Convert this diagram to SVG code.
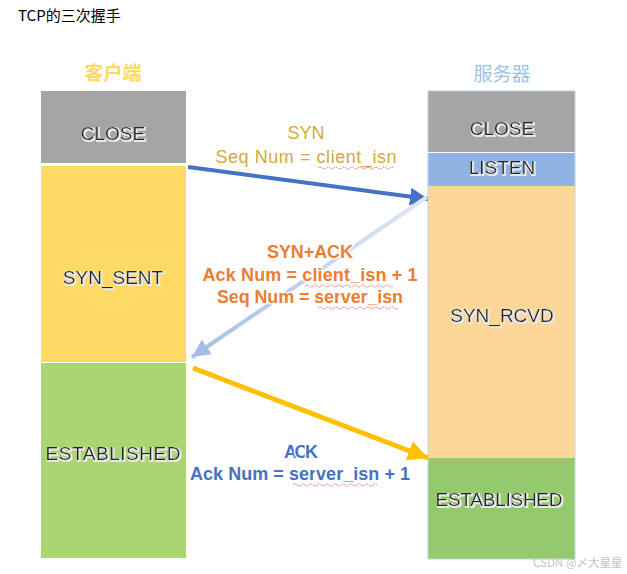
<svg xmlns="http://www.w3.org/2000/svg" width="627" height="574" viewBox="0 0 627 574">
<defs>
<style>
.state{font-family:"Liberation Sans",Arial,sans-serif;font-size:19px;fill:#262626;text-anchor:middle;filter:url(#glow)}
.lbl{font-family:"Liberation Sans",Arial,sans-serif;font-size:18px;text-anchor:middle}
.b{font-weight:bold;paint-order:stroke;stroke:#fff;stroke-width:3px;stroke-linejoin:round}
.sq{fill:none;stroke:#e04040;stroke-width:0.8;stroke-dasharray:1.5 1}
</style>
<filter id="glow" x="-10%" y="-30%" width="120%" height="160%">
<feMorphology in="SourceAlpha" operator="dilate" radius="1" result="d"/>
<feFlood flood-color="#e8e8e8"/>
<feComposite in2="d" operator="in" result="g"/>
<feOffset in="g" dx="1" dy="1" result="o"/>
<feMerge><feMergeNode in="o"/><feMergeNode in="SourceGraphic"/></feMerge>
</filter>
<marker id="hBlue" viewBox="0 0 10 10" refX="10" refY="5" markerWidth="4.5" markerHeight="5" orient="auto" markerUnits="strokeWidth"><path d="M0,0L10,5L0,10z" fill="#4472c4"/></marker>
<marker id="hLight" viewBox="0 0 10 10" refX="10" refY="5" markerWidth="4.5" markerHeight="5" orient="auto" markerUnits="strokeWidth"><path d="M0,0L10,5L0,10z" fill="#a6bee6"/></marker>
<marker id="hGold" viewBox="0 0 10 10" refX="10" refY="5" markerWidth="4" markerHeight="4.5" orient="auto" markerUnits="strokeWidth"><path d="M0,0L10,5L0,10z" fill="#ffc000"/></marker>
<linearGradient id="fade" gradientUnits="userSpaceOnUse" x1="427" y1="197" x2="192" y2="357">
<stop offset="0" stop-color="#dfe7f5"/>
<stop offset="1" stop-color="#a6bee6"/>
</linearGradient>
</defs>
<rect width="627" height="574" fill="#fff"/>
<text x="18" y="21" font-family="'Noto Sans CJK SC','Liberation Sans',sans-serif" font-size="15" fill="#000">TCP的三次握手</text>
<text x="113" y="80" text-anchor="middle" font-family="'Noto Sans CJK SC',sans-serif" font-size="19" font-weight="bold" fill="#ffd966">客户端</text>
<text x="502" y="81" text-anchor="middle" font-family="'Noto Sans CJK SC',sans-serif" font-size="19" fill="#9dc3e6">服务器</text>

<g id="client-close"><rect x="41" y="91" width="145" height="72" fill="#a5a5a5"/><text class="state" x="113" y="140">CLOSE</text></g>
<g id="client-synsent"><rect x="41" y="166" width="145" height="196" fill="#ffd966"/><text class="state" x="113" y="284">SYN_SENT</text></g>
<g id="client-established"><rect x="41" y="363" width="145" height="195" fill="#a9d672"/><text class="state" x="113" y="460" textLength="135">ESTABLISHED</text></g>

<g id="server-close"><rect x="428" y="91" width="147" height="61" fill="#a5a5a5"/><text class="state" x="502" y="135">CLOSE</text></g>
<g id="server-listen"><rect x="428" y="153" width="147" height="33" fill="#8fb4e3"/><text class="state" x="502" y="174">LISTEN</text></g>
<g id="server-synrcvd"><rect x="428" y="186" width="147" height="272" fill="#fdd699"/><text class="state" x="502" y="322">SYN_RCVD</text></g>
<g id="server-established"><rect x="428" y="458" width="147" height="101" fill="#95c96e"/><text class="state" x="499" y="506" textLength="127">ESTABLISHED</text></g>
<rect x="428" y="91" width="147" height="468" fill="none" stroke="#bcd3ee" stroke-width="1"/>

<g id="connectors">
<line x1="188" y1="167" x2="428" y2="199" stroke="#4472c4" stroke-width="4" marker-end="url(#hBlue)"/>
<line x1="427" y1="197" x2="192" y2="357" stroke="url(#fade)" stroke-width="4" marker-end="url(#hLight)"/>
<line x1="193" y1="368" x2="428" y2="458" stroke="#ffc000" stroke-width="5" marker-end="url(#hGold)"/>
</g>

<g id="syn-label">
<text class="lbl" x="306" y="139" fill="#d4aa35">SYN</text>
<text class="lbl" x="306" y="163" fill="#d4aa35" textLength="181">Seq Num = client_isn</text>
<path class="sq" d="M318,168 q2,-2 4,0 t4,0 t4,0 t4,0 t4,0 t4,0 t4,0 t4,0 t4,0 t4,0 t4,0 t4,0 t4,0 t4,0 t4,0 t4,0 t4,0 t4,0 t4,0"/>
</g>
<g id="synack-label">
<text class="lbl b" x="310" y="258" fill="#ed7d31" textLength="86">SYN+ACK</text>
<text class="lbl b" x="310" y="281" fill="#ed7d31" textLength="215">Ack Num = client_isn + 1</text>
<text class="lbl b" x="310" y="303" fill="#ed7d31" textLength="186">Seq Num = server_isn</text>
<path class="sq" d="M305,286 q2,-2 4,0 t4,0 t4,0 t4,0 t4,0 t4,0 t4,0 t4,0 t4,0 t4,0 t4,0 t4,0 t4,0 t4,0 t4,0 t4,0 t4,0 t4,0 t4,0 t4,0 t4,0 t4,0"/>
<path class="sq" d="M318,308 q2,-2 4,0 t4,0 t4,0 t4,0 t4,0 t4,0 t4,0 t4,0 t4,0 t4,0 t4,0 t4,0 t4,0 t4,0 t4,0 t4,0 t4,0 t4,0 t4,0 t4,0"/>
</g>
<g id="ack-label">
<text class="lbl b" x="301" y="458" fill="#4472c4" textLength="34">ACK</text>
<text class="lbl b" x="300" y="480" fill="#4472c4" textLength="220">Ack Num = server_isn + 1</text>
<path class="sq" d="M293,485 q2,-2 4,0 t4,0 t4,0 t4,0 t4,0 t4,0 t4,0 t4,0 t4,0 t4,0 t4,0 t4,0 t4,0 t4,0 t4,0 t4,0 t4,0 t4,0 t4,0 t4,0 t4,0"/>
</g>
<text x="533" y="567" font-family="'Noto Sans CJK SC','Liberation Sans',sans-serif" font-size="11.5" fill="#c4c4c4">CSDN @〆大星星</text>
</svg>
